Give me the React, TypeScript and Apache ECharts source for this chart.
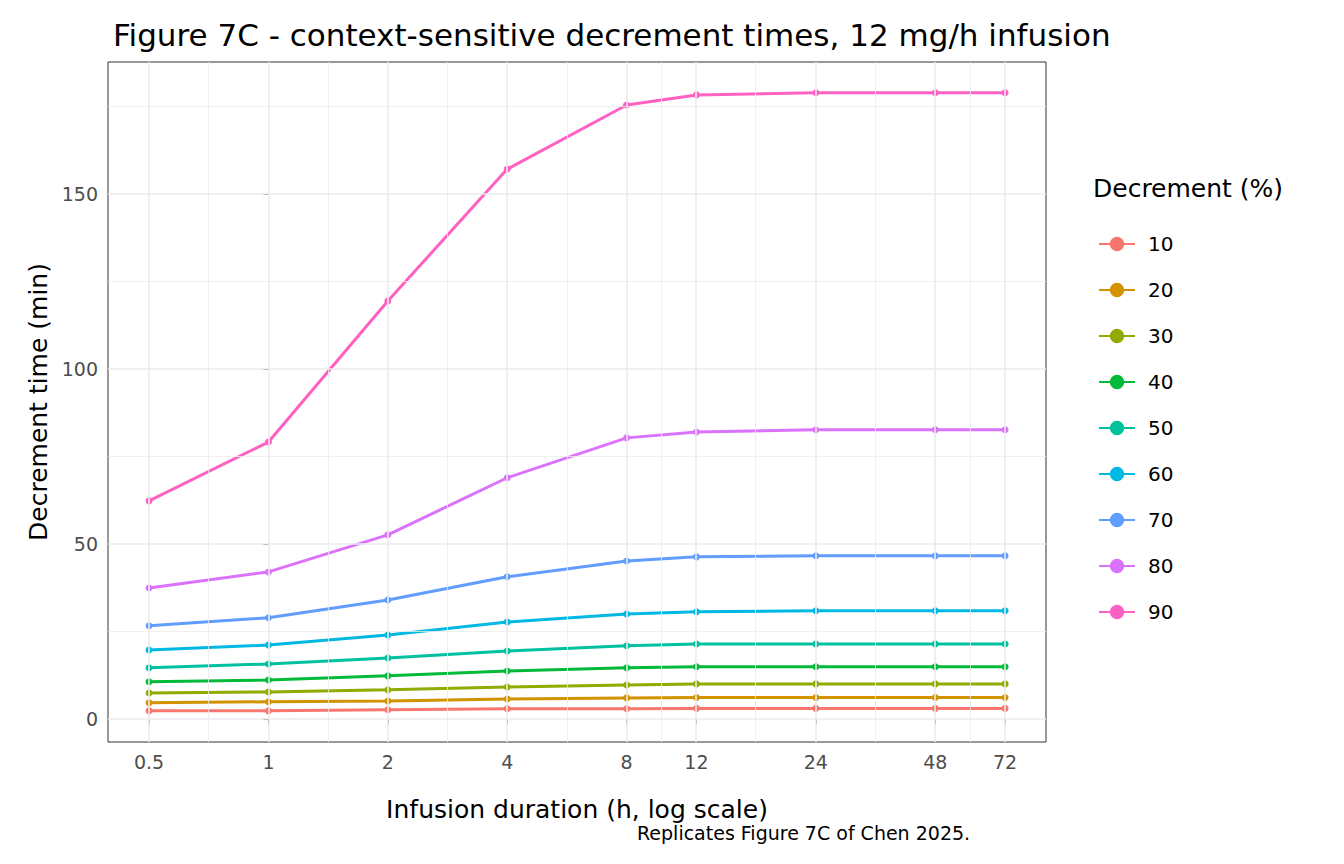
import React, { useRef, useEffect } from 'react'
import * as echarts from 'echarts'

const hours = [0.5, 1, 2, 4, 8, 12, 24, 48, 72]
const tickHours = [0.5, 1, 2, 4, 8, 12, 24, 48, 72]
const minorHours = [0.7071, 1.4142, 2.8284, 5.6569, 9.798, 16.971, 33.941, 58.788]
const yTicks = [0, 50, 100, 150]
const yMinor = [25, 75, 125, 175]
const decrements = ['10', '20', '30', '40', '50', '60', '70', '80', '90']
const colors = ['#F8766D', '#D39200', '#93AA00', '#00BA38', '#00C19F', '#00B9E3', '#619CFF', '#DB72FB', '#FF61C3']
const values = [
  [2.3, 2.3, 2.6, 2.9, 2.9, 3.0, 3.0, 3.0, 3.0],
  [4.6, 4.9, 5.1, 5.7, 6.0, 6.1, 6.1, 6.1, 6.1],
  [7.4, 7.7, 8.3, 9.1, 9.7, 10.0, 10.0, 10.0, 10.0],
  [10.6, 11.1, 12.3, 13.7, 14.6, 14.9, 14.9, 14.9, 14.9],
  [14.6, 15.7, 17.4, 19.4, 20.9, 21.4, 21.4, 21.4, 21.4],
  [19.7, 21.1, 24.0, 27.7, 30.0, 30.6, 30.9, 30.9, 30.9],
  [26.6, 28.9, 34.0, 40.6, 45.1, 46.3, 46.6, 46.6, 46.6],
  [37.4, 42.0, 52.6, 68.9, 80.3, 82.0, 82.6, 82.6, 82.6],
  [62.3, 79.1, 119.4, 157.1, 175.4, 178.3, 178.9, 178.9, 178.9],
]

const lx = (h: number) => Math.log2(h)

const App: React.FC = () => {
  const chartRef = useRef<HTMLDivElement>(null)

  useEffect(() => {
    if (!chartRef.current) return
    const chart = echarts.init(chartRef.current, null, { renderer: 'svg' })
    const font = 'DejaVu Sans'
    const vLine = (h: number, w: number) => ({ xAxis: lx(h), lineStyle: { color: '#EBEBEB', width: w, type: 'solid' } })
    const hLine = (v: number, w: number) => ({ yAxis: v, lineStyle: { color: '#EBEBEB', width: w, type: 'solid' } })

    const option = {
      animation: false,
      textStyle: { fontFamily: font },
      title: {
        text: 'Figure 7C - context-sensitive decrement times, 12 mg/h infusion',
        left: 100, top: 6,
        textStyle: { fontFamily: font, fontSize: 31, fontWeight: 'normal', color: '#000' },
      },
      grid: { left: 100, top: 54, width: 938, height: 680, show: true, borderColor: '#333', borderWidth: 1, backgroundColor: 'transparent' },
      legend: {
        orient: 'vertical', left: 1085, top: 221, itemGap: 26, itemWidth: 36, itemHeight: 18,
        data: decrements,
        textStyle: { fontFamily: font, fontSize: 20, color: '#000', padding: [0, 0, 0, 8] },
      },
      graphic: [
        { type: 'text', left: 1085, top: 168, style: { text: 'Decrement (%)', font: `25px "${font}"`, fill: '#000' } },
        { type: 'text', left: 629, top: 815, style: { text: 'Replicates Figure 7C of Chen 2025.', font: `19px "${font}"`, fill: '#000' } },
      ],
      xAxis: {
        type: 'value', min: lx(0.394), max: lx(91.3),
        name: 'Infusion duration (h, log scale)', nameLocation: 'middle', nameGap: 55,
        nameTextStyle: { fontFamily: font, fontSize: 25, color: '#000' },
        axisLine: { show: false },
        axisTick: { show: true, customValues: tickHours.map(lx), length: 5, lineStyle: { color: '#333' } },
        axisLabel: {
          customValues: tickHours.map(lx), fontSize: 19, color: '#4D4D4D', margin: 10,
          formatter: (v: number) => { const h = Math.pow(2, v); return String(Math.round(h * 10) / 10) },
        },
        splitLine: { show: false },
      },
      yAxis: {
        type: 'value', min: -6.6, max: 187.7,
        name: 'Decrement time (min)', nameLocation: 'middle', nameGap: 54,
        nameTextStyle: { fontFamily: font, fontSize: 25, color: '#000' },
        axisLine: { show: false },
        axisTick: { show: true, customValues: yTicks, length: 5, lineStyle: { color: '#333' } },
        axisLabel: { customValues: yTicks, fontSize: 19, color: '#4D4D4D', margin: 10 },
        splitLine: { show: false },
      },
      series: [
        {
          type: 'line', data: [], silent: true, legendHoverLink: false,
          markLine: {
            silent: true, symbol: 'none', label: { show: false },
            data: [
              ...minorHours.map((h) => vLine(h, 0.8)),
              ...yMinor.map((v) => hLine(v, 0.8)),
              ...tickHours.map((h) => vLine(h, 1.6)),
              ...yTicks.map((v) => hLine(v, 1.6)),
            ],
          },
        },
        ...decrements.map((d, i) => ({
          name: d, type: 'line', symbol: 'circle', symbolSize: 7,
          data: hours.map((h, j) => [lx(h), values[i][j]]),
          lineStyle: { width: 3, color: colors[i] },
          itemStyle: { color: colors[i], borderWidth: 0 },
        })),
      ],
    }
    chart.setOption(option)
    return () => chart.dispose()
  }, [])

  return <div ref={chartRef} style={{ width: 1336, height: 856 }} />
}

export default App
